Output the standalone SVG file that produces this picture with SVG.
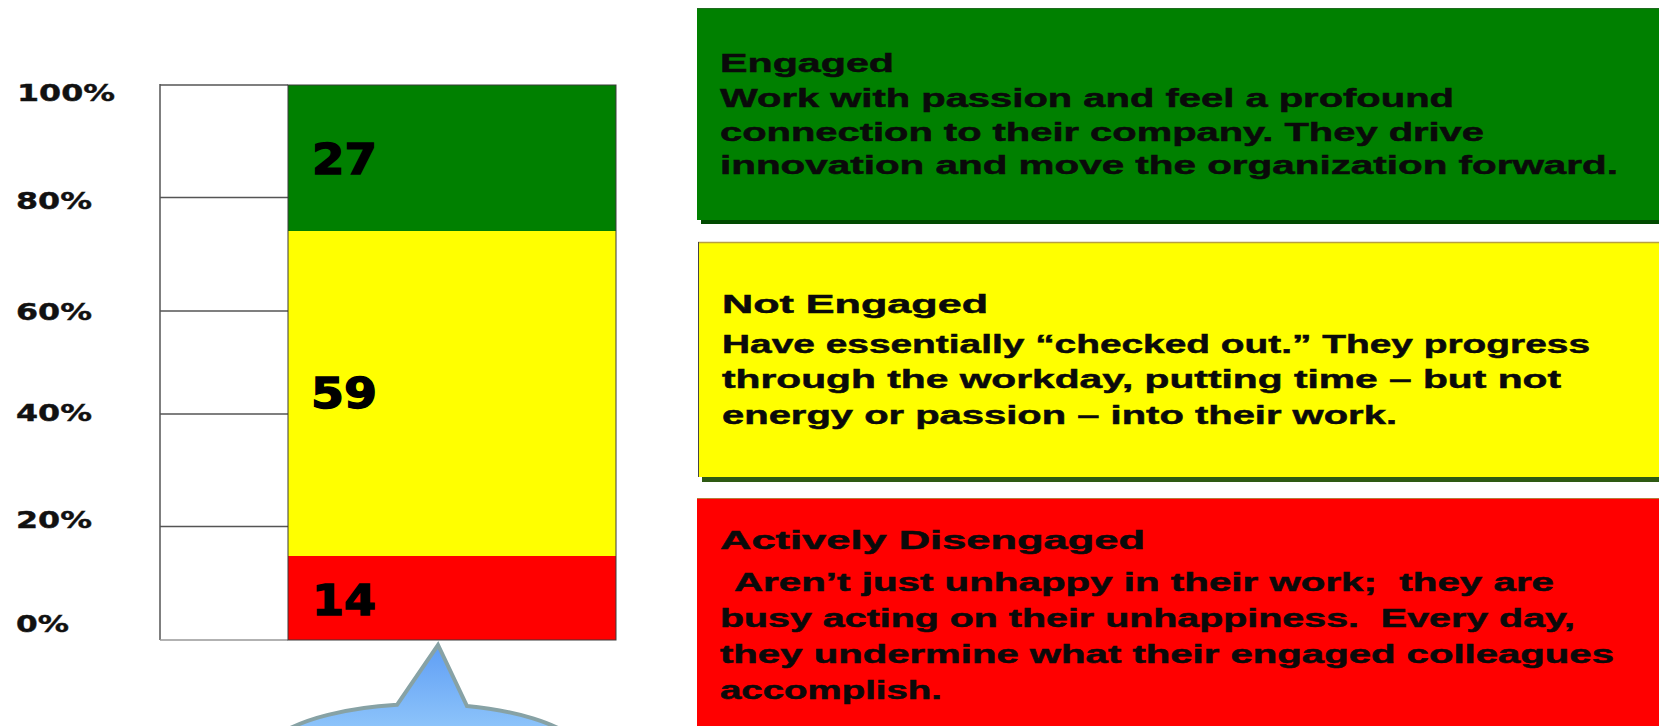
<svg xmlns="http://www.w3.org/2000/svg" width="1659" height="726" viewBox="0 0 1659 726">
<defs>
<style>
.axis{font-family:"DejaVu Sans",Verdana,sans-serif;font-weight:bold;font-size:23px;fill:#111;stroke:#111;stroke-width:0.4}
.num{font-family:"DejaVu Sans",Verdana,sans-serif;font-weight:bold;font-size:42px;fill:#000;stroke:#000;stroke-width:1.4}
.head{font-family:"Liberation Sans",Arial,sans-serif;font-weight:bold;font-size:26px;fill:#0a0a0a;stroke:#0a0a0a;stroke-width:0.5}
.body{font-family:"Liberation Sans",Arial,sans-serif;font-weight:bold;font-size:26px;fill:#0a0a0a;stroke:#0a0a0a;stroke-width:0.5}
.grid{stroke:#555;stroke-width:1.5;fill:none}
</style>
<linearGradient id="callFill" gradientUnits="userSpaceOnUse" x1="0" y1="645" x2="0" y2="726">
<stop offset="0" stop-color="#5f9ef5"/>
<stop offset="1" stop-color="#8cc3fa"/>
</linearGradient>
</defs>
<rect width="1659" height="726" fill="#ffffff"/>

<g id="axis-labels">
<text class="axis" x="17" y="101" textLength="98" lengthAdjust="spacingAndGlyphs">100%</text>
<text class="axis" x="16" y="209" textLength="76" lengthAdjust="spacingAndGlyphs">80%</text>
<text class="axis" x="16" y="320" textLength="76" lengthAdjust="spacingAndGlyphs">60%</text>
<text class="axis" x="16" y="421" textLength="76" lengthAdjust="spacingAndGlyphs">40%</text>
<text class="axis" x="16" y="528" textLength="76" lengthAdjust="spacingAndGlyphs">20%</text>
<text class="axis" x="16" y="632" textLength="53" lengthAdjust="spacingAndGlyphs">0%</text>
</g>

<g id="chart-grid">
<rect x="160" y="85" width="128" height="555" fill="#ffffff"/>
<line class="grid" x1="160" y1="84" x2="160" y2="640"/>
<line class="grid" x1="160" y1="85" x2="288" y2="85"/>
<line class="grid" x1="160" y1="197.5" x2="288" y2="197.5"/>
<line class="grid" x1="160" y1="311" x2="288" y2="311"/>
<line class="grid" x1="160" y1="414" x2="288" y2="414"/>
<line class="grid" x1="160" y1="526.5" x2="288" y2="526.5"/>
<line x1="160" y1="640" x2="288" y2="640" stroke="#999" stroke-width="1.5"/>
</g>

<g id="bar-engaged">
<rect x="288" y="85" width="328" height="146" fill="#008000"/>
<text class="num" x="312" y="174" textLength="65" lengthAdjust="spacingAndGlyphs">27</text>
</g>
<g id="bar-not-engaged">
<rect x="288" y="231" width="328" height="325" fill="#ffff00"/>
<text class="num" x="311" y="408" textLength="66" lengthAdjust="spacingAndGlyphs">59</text>
</g>
<g id="bar-disengaged">
<rect x="288" y="556" width="328" height="84" fill="#ff0000"/>
<text class="num" x="312" y="615" textLength="64" lengthAdjust="spacingAndGlyphs">14</text>
</g>
<rect x="288" y="85" width="328" height="555" fill="none" stroke="#3a3a3a" stroke-width="1"/>

<g id="callout">
<path d="M397,704.8 L438,645 L467,706 A165 58 0 1 1 397,704.8 Z" fill="url(#callFill)" stroke="#87a2a5" stroke-width="4" stroke-linejoin="miter"/>
</g>

<g id="box-engaged">
<rect x="701" y="12" width="970" height="212" fill="#004a00"/>
<rect x="697" y="8" width="970" height="212" fill="#008000"/>
<line x1="697" y1="8.5" x2="1659" y2="8.5" stroke="#1f6b1f" stroke-width="1"/>
<text class="head" x="720" y="72" textLength="174" lengthAdjust="spacingAndGlyphs">Engaged</text>
<text class="body" x="720" y="107" textLength="734" lengthAdjust="spacingAndGlyphs">Work with passion and feel a profound</text>
<text class="body" x="720" y="141" textLength="764" lengthAdjust="spacingAndGlyphs">connection to their company. They drive</text>
<text class="body" x="720" y="174" textLength="898" lengthAdjust="spacingAndGlyphs">innovation and move the organization forward.</text>
</g>

<g id="box-not-engaged">
<rect x="702" y="247" width="970" height="235" fill="#2e5a12"/>
<rect x="698" y="242" width="970" height="235" fill="#ffff00"/>
<line x1="698" y1="242.5" x2="1659" y2="242.5" stroke="#b8a040" stroke-width="1.5"/>
<line x1="698.5" y1="242" x2="698.5" y2="477" stroke="#444" stroke-width="1"/>
<text class="head" x="722" y="313" textLength="266" lengthAdjust="spacingAndGlyphs">Not Engaged</text>
<text class="body" x="722" y="353" textLength="868" lengthAdjust="spacingAndGlyphs">Have essentially “checked out.” They progress</text>
<text class="body" x="722" y="388" textLength="839" lengthAdjust="spacingAndGlyphs">through the workday, putting time – but not</text>
<text class="body" x="722" y="424" textLength="675" lengthAdjust="spacingAndGlyphs">energy or passion – into their work.</text>
</g>

<g id="box-disengaged">
<rect x="697" y="498" width="970" height="240" fill="#ff0000"/>
<line x1="697" y1="498.5" x2="1659" y2="498.5" stroke="#b87a3a" stroke-width="1"/>
<text class="head" x="720" y="549" textLength="425" lengthAdjust="spacingAndGlyphs">Actively Disengaged</text>
<text class="body" x="734" y="591" textLength="820" lengthAdjust="spacingAndGlyphs">Aren’t just unhappy in their work; &#160;they are</text>
<text class="body" x="720" y="627" textLength="855" lengthAdjust="spacingAndGlyphs">busy acting on their unhappiness. &#160;Every day,</text>
<text class="body" x="720" y="663" textLength="894" lengthAdjust="spacingAndGlyphs">they undermine what their engaged colleagues</text>
<text class="body" x="720" y="699" textLength="222" lengthAdjust="spacingAndGlyphs">accomplish.</text>
</g>
</svg>
